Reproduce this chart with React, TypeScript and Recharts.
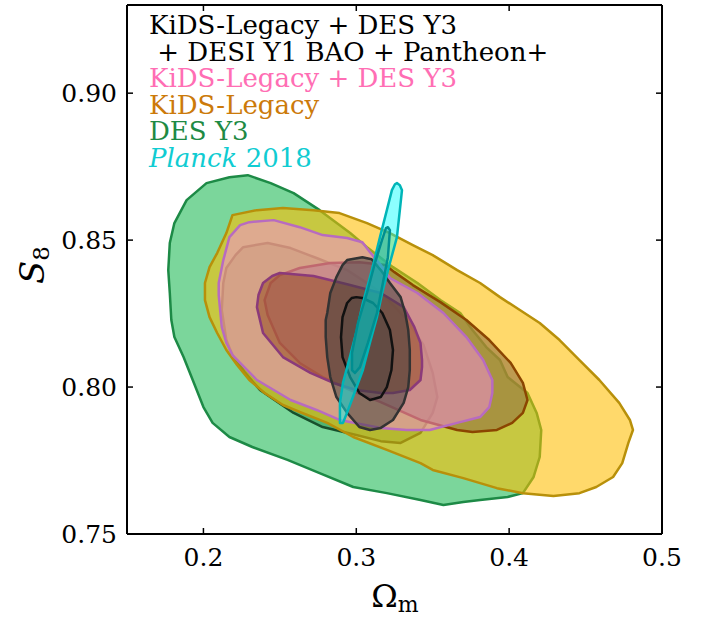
import React from 'react';
import { ScatterChart, Scatter, XAxis, YAxis, Legend, Label } from 'recharts';

type Pt = [number, number];

// axis ticks (Omega_m, S_8)
const xTicks = [0.2, 0.3, 0.4, 0.5];
const yTicks = [0.75, 0.8, 0.85, 0.9];

// DES Y3
const desOuter: Pt[] = [
  [0.178, 0.849], [0.181, 0.8558], [0.189, 0.8636], [0.202, 0.8694], [0.217, 0.8714], [0.229, 0.8721],
  [0.244, 0.8694], [0.259, 0.866], [0.276, 0.8602], [0.296, 0.8524], [0.307, 0.8476], [0.324, 0.8408],
  [0.340, 0.8354], [0.355, 0.8296], [0.368, 0.8252], [0.376, 0.8194], [0.385, 0.8136], [0.394, 0.8092],
  [0.399, 0.8034], [0.412, 0.798], [0.418, 0.7912], [0.421, 0.7854], [0.420, 0.7762], [0.416, 0.7694],
  [0.409, 0.7639], [0.399, 0.7626], [0.381, 0.7616], [0.370, 0.7609], [0.357, 0.7599], [0.342, 0.7616],
  [0.320, 0.7639], [0.298, 0.766], [0.276, 0.7707], [0.255, 0.7752], [0.232, 0.7796], [0.217, 0.783],
  [0.206, 0.7878], [0.200, 0.7932], [0.193, 0.8024], [0.187, 0.8102], [0.181, 0.817], [0.179, 0.8228],
  [0.178, 0.832], [0.177, 0.8398],
];
const desInner: Pt[] = [
  [0.212, 0.8262], [0.213, 0.8354], [0.215, 0.8405], [0.221, 0.8449], [0.226, 0.8476], [0.242, 0.849],
  [0.257, 0.8473], [0.274, 0.8439], [0.294, 0.8398], [0.316, 0.8323], [0.332, 0.8235], [0.344, 0.8143],
  [0.350, 0.8048], [0.353, 0.7966], [0.350, 0.7912], [0.342, 0.7844], [0.329, 0.781], [0.316, 0.7816],
  [0.300, 0.7837], [0.278, 0.7864], [0.259, 0.7912], [0.237, 0.799], [0.227, 0.8051], [0.219, 0.8109],
  [0.215, 0.816],
];

// KiDS-Legacy
const kidsOuter: Pt[] = [
  [0.201, 0.8296], [0.201, 0.8354], [0.204, 0.8408], [0.209, 0.8456], [0.215, 0.8524], [0.219, 0.8585],
  [0.235, 0.8602], [0.252, 0.8609], [0.272, 0.8602], [0.289, 0.8592], [0.307, 0.8558], [0.322, 0.8524],
  [0.337, 0.8483], [0.350, 0.8449], [0.366, 0.8398], [0.381, 0.8354], [0.394, 0.8306], [0.407, 0.8262],
  [0.420, 0.8218], [0.433, 0.816], [0.446, 0.8092], [0.459, 0.8024], [0.472, 0.7946], [0.479, 0.7888],
  [0.481, 0.7854], [0.478, 0.781], [0.474, 0.7741], [0.468, 0.7694], [0.457, 0.766], [0.446, 0.7639],
  [0.429, 0.7629], [0.409, 0.7639], [0.392, 0.7656], [0.370, 0.769], [0.350, 0.7718], [0.342, 0.7741],
  [0.320, 0.7786], [0.298, 0.783], [0.281, 0.7878], [0.263, 0.7915], [0.252, 0.7939], [0.240, 0.798],
  [0.230, 0.8024], [0.222, 0.8075], [0.215, 0.8126], [0.209, 0.8184], [0.204, 0.8238],
];
const kidsInner: Pt[] = [
  [0.240, 0.8296], [0.244, 0.8354], [0.250, 0.8381], [0.263, 0.8405], [0.283, 0.8422], [0.302, 0.8425],
  [0.319, 0.8415], [0.325, 0.8391], [0.337, 0.8347], [0.355, 0.8289], [0.372, 0.8228], [0.387, 0.816],
  [0.401, 0.8082], [0.409, 0.8014], [0.412, 0.7956], [0.409, 0.7912], [0.402, 0.7878], [0.392, 0.7854],
  [0.376, 0.7847], [0.366, 0.7854], [0.342, 0.7888], [0.316, 0.7949], [0.296, 0.799], [0.278, 0.8034],
  [0.263, 0.8082], [0.250, 0.815], [0.242, 0.8245],
];

// KiDS-Legacy + DES Y3
const jointOuter: Pt[] = [
  [0.210, 0.8313], [0.210, 0.8354], [0.213, 0.8432], [0.217, 0.851], [0.224, 0.8551], [0.230, 0.8561],
  [0.246, 0.8568], [0.263, 0.8544], [0.278, 0.8517], [0.294, 0.8507], [0.304, 0.8493], [0.309, 0.8459],
  [0.316, 0.8415], [0.322, 0.8371], [0.340, 0.832], [0.357, 0.8252], [0.372, 0.817], [0.383, 0.8092],
  [0.389, 0.8024], [0.389, 0.798], [0.387, 0.7932], [0.381, 0.7898], [0.366, 0.7878], [0.348, 0.7854],
  [0.333, 0.7854], [0.316, 0.7861], [0.289, 0.7888], [0.274, 0.7922], [0.257, 0.7956], [0.235, 0.8024],
  [0.219, 0.8109], [0.215, 0.815], [0.212, 0.8204],
];
const jointInner: Pt[] = [
  [0.235, 0.8272], [0.236, 0.8313], [0.239, 0.8354], [0.245, 0.8378], [0.250, 0.8388], [0.272, 0.8378],
  [0.294, 0.835], [0.316, 0.832], [0.331, 0.8272], [0.338, 0.8204], [0.342, 0.815], [0.343, 0.8092],
  [0.343, 0.8068], [0.342, 0.8024], [0.335, 0.799], [0.324, 0.798], [0.316, 0.798], [0.300, 0.799],
  [0.285, 0.8014], [0.270, 0.8048], [0.252, 0.8102], [0.239, 0.8184],
];

// KiDS-Legacy + DES Y3 + DESI Y1 BAO + Pantheon+
const allOuter: Pt[] = [
  [0.280, 0.817], [0.280, 0.8228], [0.281, 0.8252], [0.283, 0.832], [0.287, 0.8374], [0.291, 0.8415],
  [0.294, 0.8432], [0.304, 0.8442], [0.310, 0.8435], [0.316, 0.8398], [0.322, 0.8354], [0.329, 0.8306],
  [0.332, 0.8252], [0.334, 0.8194], [0.335, 0.8126], [0.335, 0.8058], [0.334, 0.8], [0.331, 0.7946],
  [0.324, 0.7888], [0.316, 0.7861], [0.309, 0.7854], [0.302, 0.7864], [0.294, 0.7912], [0.287, 0.7966],
  [0.283, 0.8034], [0.281, 0.8102],
];
const allInner: Pt[] = [
  [0.290, 0.817], [0.291, 0.8238], [0.294, 0.8286], [0.297, 0.8303], [0.300, 0.8306], [0.304, 0.8303],
  [0.311, 0.8286], [0.317, 0.8252], [0.322, 0.8194], [0.324, 0.8126], [0.323, 0.8058], [0.320, 0.8],
  [0.316, 0.7966], [0.309, 0.7956], [0.302, 0.798], [0.296, 0.8034], [0.291, 0.8102],
];

// Planck 2018
const planckOuter: Pt[] = [
  [0.3266, 0.8694], [0.3285, 0.8687], [0.3299, 0.867], [0.3285, 0.8602], [0.3266, 0.851], [0.322, 0.8422],
  [0.3174, 0.833], [0.3135, 0.8238], [0.3089, 0.815], [0.3043, 0.8058], [0.2978, 0.7966], [0.2939, 0.7912],
  [0.2913, 0.7878], [0.2893, 0.7878], [0.2893, 0.7946], [0.2913, 0.8014], [0.2958, 0.8102], [0.3004, 0.8194],
  [0.3043, 0.8286], [0.3102, 0.8398], [0.3155, 0.851], [0.32, 0.8602], [0.3233, 0.867], [0.3253, 0.869],
];
const planckInner: Pt[] = [
  [0.3207, 0.8544], [0.322, 0.8534], [0.3207, 0.8442], [0.3174, 0.8354], [0.3135, 0.8252], [0.3076, 0.815],
  [0.3024, 0.8068], [0.2991, 0.8048], [0.2972, 0.8058], [0.2972, 0.8116], [0.3011, 0.8218], [0.307, 0.832],
  [0.3122, 0.8422], [0.3168, 0.85], [0.3194, 0.8541],
];

// anchors the top and right frame axes
const frameAnchor = [{ x: 0.3, y: 0.8 }];

const legendLines = [
  { text: 'KiDS-Legacy + DES Y3', color: '#000000' },
  { text: ' + DESI Y1 BAO + Pantheon+', color: '#000000' },
  { text: 'KiDS-Legacy + DES Y3', color: '#FF6EB4' },
  { text: 'KiDS-Legacy', color: '#CC7A0A' },
  { text: 'DES Y3', color: '#1E8A44' },
  { italic: 'Planck', text: ' 2018', color: '#10CCD2' },
];

// drawn bottom to top
const contours = [
  { key: 'des2', pts: desOuter, fill: '#7BD69B', op: 1, stroke: '#1D8A46' },
  { key: 'des1', pts: desInner, fill: '#50B473', op: 1, stroke: '#17502C' },
  { key: 'kids2', pts: kidsOuter, fill: '#FFBE00', op: 0.58, stroke: '#B8900A' },
  { key: 'kids1', pts: kidsInner, fill: '#92723F', op: 0.6, stroke: '#8B4500' },
  { key: 'joint2', pts: jointOuter, fill: '#F58CDD', op: 0.5, stroke: '#B86BC0' },
  { key: 'joint1', pts: jointInner, fill: '#90441A', op: 0.5, stroke: '#8B3A7A' },
  { key: 'all2', pts: allOuter, fill: '#3C3C3C', op: 0.5, stroke: '#333333' },
  { key: 'all1', pts: allInner, fill: '#3C3C3C', op: 0.3, stroke: '#111111' },
  { key: 'planck2', pts: planckOuter, fill: '#00FFFF', op: 0.45, stroke: '#00B5B8' },
  { key: 'planck1', pts: planckInner, fill: '#009999', op: 0.4, stroke: '#008E90' },
];

const FONT = 'DejaVu Serif';
const tickStyle = { fontFamily: FONT, fontSize: 25, fill: '#000' };
const frame = { stroke: '#000', strokeWidth: 2 };
const tickLine = { stroke: '#000', strokeWidth: 1.5 };
const noLabel = () => <g />;

const renderLegend = () => (
  <div style={{ fontFamily: FONT, fontSize: 26, lineHeight: '26.5px', whiteSpace: 'pre' }}>
    {legendLines.map((l, i) => (
      <div key={i} style={{ color: l.color, height: 26.5 }}>
        {l.italic ? <span style={{ fontStyle: 'italic' }}>{l.italic}</span> : null}
        {l.text}
      </div>
    ))}
  </div>
);

export default function App() {
  return (
    <div style={{ position: 'absolute', left: 0, top: 0 }}>
      <ScatterChart width={720} height={619} margin={{ top: 4, right: 57, bottom: 0, left: 0 }}>
        <XAxis
          dataKey="x"
          type="number"
          domain={[0.15, 0.5]}
          ticks={xTicks}
          allowDataOverflow
          height={85}
          tickSize={-6}
          tickMargin={20}
          tick={tickStyle}
          tickLine={tickLine}
          axisLine={frame}
          tickFormatter={(v: number) => v.toFixed(1)}
        >
          <Label
            content={() => (
              <text x={395} y={607} textAnchor="middle" fontFamily={FONT} fontSize={32} fill="#000">
                <tspan>Ω</tspan>
                <tspan fontSize={22} dy={5}>m</tspan>
              </text>
            )}
          />
        </XAxis>
        <XAxis
          xAxisId="top"
          orientation="top"
          dataKey="x"
          type="number"
          domain={[0.15, 0.5]}
          ticks={xTicks}
          allowDataOverflow
          height={1}
          tickSize={-6}
          tick={noLabel}
          tickLine={tickLine}
          axisLine={frame}
        />
        <YAxis
          dataKey="y"
          type="number"
          domain={[0.75, 0.93]}
          ticks={yTicks}
          allowDataOverflow
          width={127}
          tickSize={-6}
          tickMargin={16}
          tick={tickStyle}
          tickLine={tickLine}
          axisLine={frame}
          tickFormatter={(v: number) => v.toFixed(2)}
        >
          <Label
            content={() => (
              <text
                x={44}
                y={265}
                transform="rotate(-90, 44, 265)"
                textAnchor="middle"
                fontFamily={FONT}
                fontSize={34}
                fill="#000"
              >
                <tspan fontStyle="italic">S</tspan>
                <tspan fontSize={23} dy={5}>8</tspan>
              </text>
            )}
          />
        </YAxis>
        <YAxis
          yAxisId="right"
          orientation="right"
          dataKey="y"
          type="number"
          domain={[0.75, 0.93]}
          ticks={yTicks}
          allowDataOverflow
          width={1}
          tickSize={-6}
          tick={noLabel}
          tickLine={tickLine}
          axisLine={frame}
        />
        {contours.map((c) => (
          <Scatter
            key={c.key}
            data={c.pts.map(([x, y]) => ({ x, y }))}
            shape={() => <g />}
            line={{ fill: c.fill, fillOpacity: c.op, stroke: c.stroke, strokeWidth: 2.5, strokeLinejoin: 'round' }}
            lineJointType="linearClosed"
            legendType="none"
            isAnimationActive={false}
          />
        ))}
        <Scatter
          xAxisId="top"
          yAxisId="right"
          data={frameAnchor}
          shape={() => <g />}
          legendType="none"
          isAnimationActive={false}
        />
        <Legend
          layout="vertical"
          align="center"
          verticalAlign="middle"
          content={renderLegend}
          wrapperStyle={{ top: 12, left: 149, width: 520 }}
        />
      </ScatterChart>
    </div>
  );
}
